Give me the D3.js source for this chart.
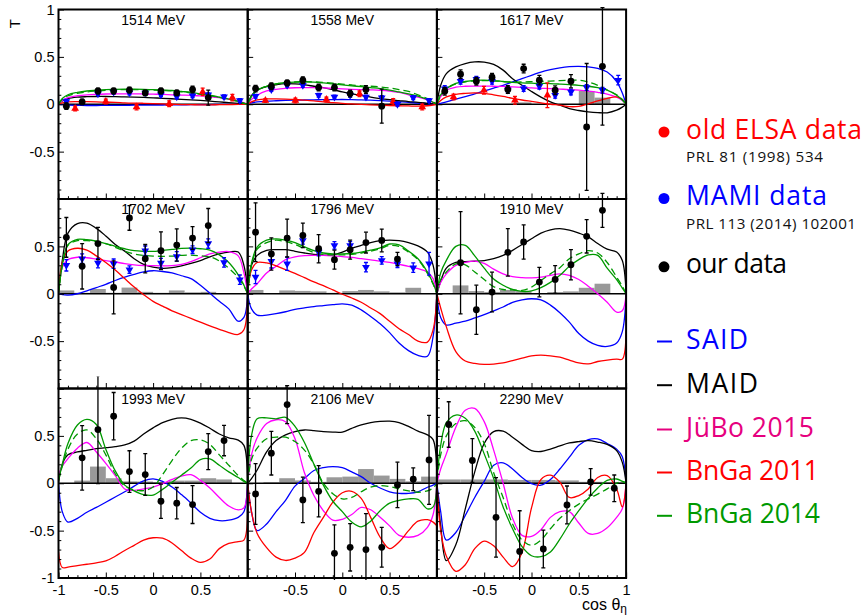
<!DOCTYPE html>
<html>
<head>
<meta charset="utf-8">
<script src="https://cdn.jsdelivr.net/npm/d3@7"></script>
<style>
  body { margin: 0; background: #fff; }
  svg { display: block; }
</style>
</head>
<body>
<svg id="chart" width="865" height="615"></svg>
<script>
// Beam energies of the nine panels
const energies = ["1514 MeV", "1558 MeV", "1617 MeV", "1702 MeV", "1796 MeV",
                  "1910 MeV", "1993 MeV", "2106 MeV", "2290 MeV"];

// cos(theta_eta) grid on which the model curves are tabulated
const cosGrid = [-1, -0.96, -0.9, -0.8, -0.7, -0.6, -0.5, -0.4, -0.3, -0.2, -0.1, 0,
                 0.1, 0.2, 0.3, 0.4, 0.5, 0.6, 0.7, 0.8, 0.9, 0.96, 1];

// Model predictions of T, one row per energy
const SAID = [
  [0,-0.005,-0.01,-0.012,-0.013,-0.013,-0.012,-0.012,-0.011,-0.01,-0.01,-0.009,-0.008,-0.007,-0.006,-0.005,-0.004,-0.003,-0.002,-0.001,0,0,0],
  [0,0.015,0.025,0.033,0.037,0.04,0.043,0.045,0.047,0.048,0.049,0.05,0.048,0.046,0.043,0.038,0.032,0.026,0.02,0.012,0.006,0.002,0],
  [0,0.01,0.025,0.055,0.08,0.11,0.14,0.17,0.2,0.235,0.27,0.305,0.34,0.365,0.385,0.397,0.4,0.395,0.378,0.34,0.24,0.12,0],
  [0,-0.01,-0.014,0.0,0.03,0.065,0.1,0.14,0.175,0.205,0.23,0.243,0.235,0.22,0.19,0.16,0.09,0.005,-0.08,-0.16,-0.29,-0.25,0],
  [0,-0.16,-0.225,-0.225,-0.21,-0.19,-0.165,-0.15,-0.135,-0.125,-0.115,-0.106,-0.12,-0.17,-0.24,-0.317,-0.41,-0.52,-0.6,-0.65,-0.66,-0.45,0],
  [0,-0.25,-0.33,-0.31,-0.29,-0.255,-0.22,-0.18,-0.14,-0.09,-0.065,-0.053,-0.065,-0.12,-0.2,-0.3,-0.42,-0.5,-0.545,-0.556,-0.52,-0.4,0],
  [0,-0.3,-0.41,-0.37,-0.306,-0.255,-0.2,-0.145,-0.09,-0.03,0.025,0.046,0.02,-0.04,-0.12,-0.21,-0.306,-0.37,-0.395,-0.39,-0.36,-0.3,0],
  [0,-0.3,-0.5,-0.43,-0.3,-0.18,-0.03,0.05,0.134,0.165,0.176,0.165,0.12,0.07,0.0,-0.05,-0.09,-0.106,-0.106,-0.09,-0.042,-0.02,0],
  [0,-0.3,-0.6,-0.52,-0.34,-0.15,0.02,0.19,0.215,0.15,0.06,-0.005,-0.02,0.04,0.15,0.275,0.4,0.46,0.468,0.42,0.36,0.28,0]
];
const MAID = [
  [0,0.035,0.06,0.075,0.08,0.082,0.082,0.08,0.078,0.075,0.072,0.068,0.063,0.058,0.052,0.046,0.04,0.033,0.025,0.017,0.009,0.004,0],
  [0,0.09,0.148,0.185,0.205,0.218,0.215,0.205,0.19,0.175,0.155,0.13,0.11,0.095,0.075,0.06,0.048,0.038,0.028,0.02,0.01,0.004,0],
  [0,0.2,0.324,0.394,0.43,0.447,0.445,0.42,0.36,0.27,0.2,0.135,0.075,0.025,-0.01,-0.046,-0.066,-0.08,-0.088,-0.09,-0.063,-0.03,0],
  [0,0.35,0.64,0.74,0.746,0.69,0.61,0.52,0.45,0.37,0.31,0.28,0.268,0.275,0.295,0.32,0.35,0.39,0.42,0.44,0.44,0.3,0],
  [0,0.3,0.405,0.458,0.465,0.465,0.448,0.43,0.415,0.407,0.41,0.44,0.48,0.51,0.54,0.56,0.565,0.56,0.54,0.505,0.44,0.3,0],
  [0,0.13,0.27,0.33,0.34,0.343,0.35,0.37,0.405,0.458,0.52,0.58,0.64,0.675,0.687,0.672,0.64,0.6,0.53,0.47,0.44,0.35,0],
  [0,0.2,0.3,0.33,0.348,0.365,0.375,0.387,0.405,0.445,0.52,0.585,0.64,0.675,0.69,0.675,0.635,0.58,0.52,0.48,0.455,0.4,0],
  [0,0.05,0.14,0.33,0.45,0.51,0.545,0.562,0.556,0.545,0.54,0.54,0.58,0.615,0.64,0.652,0.655,0.64,0.6,0.55,0.51,0.46,0],
  [0,-0.45,-0.817,-0.65,-0.27,0.12,0.42,0.545,0.55,0.486,0.41,0.345,0.335,0.36,0.395,0.425,0.44,0.45,0.435,0.41,0.345,0.22,0]
];
const JUBO2015 = [
  [0,0.04,0.07,0.09,0.1,0.105,0.108,0.11,0.11,0.11,0.108,0.106,0.104,0.1,0.097,0.093,0.088,0.08,0.07,0.055,0.035,0.015,0],
  [0,0.05,0.095,0.14,0.158,0.168,0.174,0.176,0.175,0.172,0.167,0.162,0.158,0.155,0.152,0.148,0.14,0.125,0.1,0.075,0.045,0.02,0],
  [0,0.08,0.148,0.18,0.19,0.192,0.192,0.19,0.188,0.183,0.178,0.172,0.168,0.165,0.16,0.155,0.148,0.138,0.125,0.108,0.075,0.04,0],
  [0,0.28,0.36,0.385,0.38,0.365,0.35,0.335,0.318,0.305,0.298,0.296,0.295,0.296,0.31,0.34,0.38,0.42,0.44,0.445,0.4,0.22,0],
  [0,0.05,0.106,0.22,0.29,0.36,0.39,0.402,0.405,0.405,0.4,0.392,0.383,0.37,0.357,0.345,0.33,0.31,0.29,0.265,0.23,0.16,0],
  [0,0.12,0.21,0.3,0.33,0.345,0.32,0.26,0.21,0.18,0.17,0.168,0.175,0.195,0.21,0.194,0.15,0.08,0.0,-0.09,-0.194,-0.18,0],
  [0.08,0.18,0.26,0.37,0.43,0.33,0.21,0.08,-0.06,-0.075,-0.06,-0.04,-0.005,0.04,0.075,0.09,0.03,-0.05,-0.15,-0.24,-0.28,-0.26,0],
  [0,0.3,0.48,0.63,0.67,0.65,0.47,0.11,-0.13,-0.29,-0.39,-0.38,-0.33,-0.255,-0.28,-0.36,-0.45,-0.55,-0.57,-0.55,-0.465,-0.33,0],
  [0,0.15,0.31,0.59,0.77,0.79,0.65,0.35,0.0,-0.37,-0.55,-0.56,-0.49,-0.36,-0.3,-0.3,-0.42,-0.53,-0.53,-0.47,-0.36,-0.27,0]
];
const BNGA2011 = [
  [0,0.015,0.025,0.027,0.027,0.025,0.022,0.02,0.015,0.012,0.01,0.007,0.004,0,-0.003,-0.005,-0.006,-0.006,-0.005,-0.003,-0.002,-0.001,0],
  [0,0.025,0.045,0.056,0.056,0.054,0.05,0.043,0.035,0.025,0.018,0.01,0.003,-0.002,-0.006,-0.01,-0.013,-0.016,-0.018,-0.02,-0.016,-0.008,0],
  [0,0.04,0.077,0.105,0.115,0.12,0.115,0.1,0.082,0.062,0.045,0.03,0.015,0,-0.01,-0.025,-0.022,0.005,0.035,0.062,0.077,0.05,0],
  [0,0.33,0.45,0.48,0.46,0.4,0.33,0.25,0.16,0.07,-0.01,-0.08,-0.13,-0.18,-0.22,-0.26,-0.3,-0.34,-0.375,-0.41,-0.43,-0.38,0],
  [0,0.25,0.33,0.325,0.295,0.255,0.215,0.17,0.125,0.085,0.04,-0.005,-0.045,-0.09,-0.15,-0.21,-0.29,-0.37,-0.43,-0.5,-0.51,-0.38,0],
  [0,-0.15,-0.35,-0.61,-0.71,-0.735,-0.746,-0.742,-0.73,-0.705,-0.68,-0.655,-0.648,-0.655,-0.67,-0.7,-0.73,-0.74,-0.715,-0.7,-0.69,-0.69,-0.39],
  [-0.72,-0.89,-0.885,-0.87,-0.855,-0.84,-0.82,-0.77,-0.71,-0.655,-0.6,-0.575,-0.58,-0.63,-0.71,-0.79,-0.835,-0.8,-0.69,-0.635,-0.615,-0.6,-0.3],
  [0,-0.3,-0.53,-0.68,-0.78,-0.815,-0.79,-0.73,-0.52,-0.36,-0.2,-0.1,-0.085,-0.16,-0.36,-0.57,-0.69,-0.62,-0.5,-0.4,-0.385,-0.41,-0.45],
  [0,-0.5,-0.77,-0.93,-0.86,-0.69,-0.61,-0.66,-0.78,-0.88,-0.73,-0.26,0.04,0.085,0.01,-0.15,-0.13,-0.06,0.06,0.08,-0.06,-0.25,0]
];
const BNGA2014 = [
  [0,0.06,0.1,0.125,0.14,0.148,0.155,0.158,0.16,0.16,0.158,0.155,0.15,0.145,0.135,0.125,0.11,0.095,0.075,0.055,0.03,0.012,0],
  [0,0.08,0.148,0.19,0.215,0.227,0.233,0.236,0.233,0.225,0.215,0.205,0.195,0.185,0.175,0.165,0.15,0.13,0.11,0.085,0.05,0.02,0],
  [0,0.1,0.165,0.22,0.24,0.252,0.254,0.25,0.24,0.23,0.225,0.222,0.22,0.218,0.213,0.207,0.2,0.19,0.175,0.15,0.095,0.045,0],
  [0,0.3,0.518,0.575,0.57,0.555,0.53,0.5,0.475,0.455,0.448,0.447,0.458,0.468,0.478,0.482,0.475,0.46,0.41,0.33,0.2,0.09,0],
  [0,0.32,0.493,0.565,0.58,0.565,0.54,0.495,0.455,0.43,0.42,0.42,0.425,0.44,0.46,0.485,0.525,0.515,0.45,0.37,0.229,0.11,0],
  [0,0.22,0.352,0.5,0.51,0.4,0.27,0.155,0.09,0.045,0.025,0.03,0.065,0.12,0.194,0.29,0.36,0.41,0.405,0.27,0.15,0.06,0],
  [0.03,0.2,0.42,0.615,0.675,0.62,0.36,0.13,-0.02,-0.08,-0.12,-0.125,-0.065,0.01,0.085,0.16,0.25,0.257,0.19,0.12,0.06,0.02,0],
  [0,0.5,0.68,0.69,0.68,0.695,0.6,0.43,0.2,-0.02,-0.19,-0.3,-0.41,-0.46,-0.4,-0.29,-0.21,-0.18,-0.165,-0.17,-0.27,-0.25,0],
  [0.03,0.4,0.64,0.72,0.685,0.55,0.31,0.05,-0.25,-0.48,-0.67,-0.765,-0.775,-0.725,-0.59,-0.43,-0.29,-0.16,-0.05,0.03,0.045,0.02,0]
];
// BnGa 2014 variant fit (dashed)
const BNGA2014_FIT = [
  [0,0.05,0.09,0.115,0.13,0.14,0.148,0.152,0.155,0.155,0.153,0.15,0.145,0.14,0.13,0.12,0.105,0.09,0.072,0.052,0.028,0.01,0],
  [0,0.08,0.148,0.19,0.215,0.228,0.235,0.238,0.236,0.23,0.222,0.212,0.203,0.195,0.19,0.183,0.172,0.155,0.135,0.1,0.06,0.025,0],
  [0,0.09,0.16,0.215,0.237,0.248,0.25,0.247,0.24,0.235,0.235,0.238,0.242,0.245,0.25,0.253,0.254,0.235,0.2,0.15,0.1,0.05,0],
  [0,0.3,0.51,0.56,0.56,0.553,0.53,0.49,0.45,0.42,0.405,0.398,0.395,0.398,0.405,0.408,0.4,0.39,0.345,0.27,0.17,0.08,0],
  [0,0.3,0.47,0.54,0.565,0.55,0.52,0.475,0.435,0.415,0.41,0.41,0.415,0.43,0.45,0.475,0.51,0.5,0.44,0.36,0.215,0.1,0],
  [0,0.15,0.229,0.315,0.305,0.23,0.15,0.075,0.045,0.04,0.035,0.07,0.14,0.21,0.275,0.37,0.42,0.455,0.43,0.33,0.176,0.08,0],
  [0.03,0.18,0.36,0.52,0.563,0.47,0.3,0.1,-0.03,-0.07,-0.077,-0.04,0.09,0.24,0.37,0.45,0.458,0.41,0.3,0.19,0.08,0.03,0],
  [0,0.25,0.37,0.47,0.486,0.486,0.44,0.35,0.2,0.0,-0.11,-0.165,-0.15,-0.09,-0.04,-0.025,-0.035,-0.06,-0.08,-0.095,-0.08,-0.05,0],
  [0.03,0.3,0.5,0.63,0.66,0.59,0.42,0.11,-0.15,-0.43,-0.6,-0.655,-0.6,-0.48,-0.37,-0.289,-0.22,-0.165,-0.115,-0.06,0.0,0.02,0]
];

// Measured T: [cos, T, statistical error]
const ourData = [
  [[-0.917,-0.02,0.035],[-0.75,0.025,0.03],[-0.583,0.14,0.03],[-0.417,0.14,0.03],[-0.25,0.15,0.03],[-0.083,0.12,0.03],[0.083,0.14,0.03],[0.25,0.12,0.03],[0.417,0.155,0.035],[0.583,0.07,0.08]],
  [[-0.917,0.165,0.035],[-0.75,0.19,0.035],[-0.583,0.225,0.03],[-0.417,0.254,0.035],[-0.25,0.176,0.035],[-0.083,0.176,0.035],[0.083,0.113,0.035],[0.25,0.155,0.04],[0.417,-0.02,0.18]],
  [[-0.917,0.137,0.04],[-0.75,0.317,0.045],[-0.583,0.243,0.04],[-0.417,0.285,0.04],[-0.25,0.155,0.04],[-0.083,0.377,0.045],[0.083,0.254,0.05],[0.25,0.148,0.045],[0.417,0.243,0.07],[0.583,-0.24,0.67],[0.75,0.4,0.62]],
  [[-0.917,0.595,0.21],[-0.75,0.29,0.24],[-0.583,0.53,0.17],[-0.417,0.067,0.28],[-0.25,0.8,0.13],[-0.083,0.37,0.15],[0.083,0.454,0.2],[0.25,0.514,0.17],[0.417,0.588,0.12],[0.583,0.72,0.18]],
  [[-0.917,0.65,0.31],[-0.75,0.42,0.17],[-0.583,0.588,0.2],[-0.417,0.616,0.13],[-0.25,0.475,0.15],[-0.083,0.36,0.1],[0.083,0.465,0.1],[0.25,0.54,0.11],[0.417,0.563,0.12],[0.583,0.366,0.07]],
  [[-0.75,0.327,0.54],[-0.583,-0.169,0.26],[-0.417,0.018,0.21],[-0.25,0.437,0.25],[-0.083,0.546,0.18],[0.083,0.123,0.155],[0.25,0.151,0.146],[0.417,0.306,0.16],[0.583,0.606,0.176],[0.75,0.88,0.18]],
  [[-0.75,0.268,0.34],[-0.583,0.567,0.57],[-0.417,0.708,0.25],[-0.25,0.123,0.22],[-0.083,0.092,0.22],[0.083,-0.19,0.18],[0.25,-0.21,0.165],[0.417,-0.225,0.2],[0.583,0.334,0.19],[0.75,0.45,0.16]],
  [[-0.917,-0.113,0.32],[-0.75,0.317,0.23],[-0.583,0.83,0.2],[-0.417,-0.176,0.24],[-0.25,-0.085,0.27],[-0.083,-0.74,0.3],[0.083,-0.676,0.25],[0.25,-0.7,0.38],[0.417,-0.676,0.21],[0.583,-0.018,0.24],[0.75,0.042,0.12],[0.917,0.246,0.47]],
  [[-0.875,0.62,0.24],[-0.625,0.24,0.23],[-0.375,-0.36,0.42],[-0.125,-0.72,0.43],[0.125,-0.694,0.2],[0.375,-0.229,0.2],[0.625,0.014,0.14],[0.875,-0.053,0.14]]
];
// MAMI data (PRL 113 (2014) 102001)
const mamiData = [
  [[-0.917,0.03,0.02],[-0.583,0.11,0.02],[-0.417,0.13,0.02],[-0.25,0.12,0.02],[-0.083,0.12,0.02],[0.083,0.1,0.02],[0.25,0.08,0.02],[0.417,0.09,0.02],[0.583,0.1,0.02],[0.75,0.08,0.02],[0.917,0.04,0.02]],
  [[-0.917,0.085,0.02],[-0.75,0.155,0.02],[-0.583,0.2,0.02],[-0.417,0.2,0.02],[-0.25,0.095,0.02],[-0.083,0.077,0.02],[0.083,0.095,0.02],[0.25,0.077,0.02],[0.417,0.07,0.02],[0.583,0.0,0.02],[0.75,0.07,0.02],[0.917,0.04,0.02]],
  [[-0.917,0.165,0.03],[-0.75,0.243,0.03],[-0.583,0.264,0.03],[-0.417,0.243,0.03],[-0.25,0.15,0.03],[-0.083,0.165,0.03],[0.083,0.19,0.03],[0.25,0.095,0.03],[0.417,0.13,0.03],[0.583,0.176,0.03],[0.75,0.148,0.03],[0.917,0.254,0.05]],
  [[-0.917,0.3,0.06],[-0.75,0.37,0.05],[-0.583,0.324,0.05],[-0.417,0.317,0.05],[-0.25,0.254,0.04],[-0.083,0.454,0.05],[0.083,0.324,0.05],[0.25,0.394,0.05],[0.417,0.465,0.04],[0.583,0.53,0.05],[0.75,0.33,0.05],[0.917,0.148,0.05]],
  [[-0.917,0.176,0.07],[-0.75,0.342,0.07],[-0.583,0.317,0.07],[-0.417,0.563,0.04],[-0.25,0.44,0.04],[-0.083,0.51,0.04],[0.083,0.51,0.04],[0.25,0.28,0.05],[0.417,0.352,0.04],[0.583,0.317,0.04],[0.75,0.275,0.05],[0.917,0.317,0.12]],
  [], [], [], []
];
// old ELSA data (PRL 81 (1998) 534)
const elsaData = [
  [[-0.824,-0.045,0.025],[-0.5,0.03,0.025],[-0.175,-0.03,0.03],[0.17,0.005,0.03],[0.524,0.13,0.04],[0.838,0.07,0.035]],
  [[-0.813,0.04,0.02],[-0.496,0.04,0.025],[-0.168,0.05,0.025],[0.182,0.11,0.03],[0.538,0.025,0.035],[0.845,-0.03,0.03]],
  [[-0.824,0.077,0.03],[-0.503,0.148,0.04],[-0.175,0.042,0.04],[0.168,0.095,0.13]],
  [], [], [], [], [], []
];

// Systematic uncertainty histograms: bin width and bin contents (bins start at cos = -1)
const sysBinWidth = [1/6, 1/6, 1/6, 1/6, 1/6, 1/6, 1/6, 1/6, 0.25];
const sysErr = [
  [0,0,0,0,0,0,0,0,0,0,0,0],
  [0,0,0,0,0,0,0,0,0,0,0,0],
  [0,0,0,0,0,0.02,0,0,0,0.14,0.07,0],
  [0.035,0.01,0.05,0.01,0.065,0.02,0.01,0.035,0.015,0.02,0,0],
  [0.04,0.005,0.035,0.03,0.025,0.01,0.028,0.04,0.025,0.015,0.063,0],
  [0,0.088,0.028,0.018,0.04,0.028,0.008,0.018,0.025,0.063,0.106,0],
  [0,0.028,0.176,0.053,0.02,0.018,0.01,0.028,0.028,0.053,0.04,0],
  [0,0.01,0.053,0.03,0.015,0.063,0.07,0.15,0.081,0.046,0.02,0.07],
  [0.04,0.04,0.04,0.035,0.035,0.03,0.015,0.01]
];

// Axis tick values and which labels appear on the outer panels
const majorTicks = [-1, -0.5, 0, 0.5, 1];
const minorTicks = d3.range(-10, 11).filter(i => i % 5 !== 0).map(i => i / 10);
const yLabelsByRow = [[1, 0.5, 0, -0.5], [0.5, 0, -0.5], [0.5, 0, -0.5, -1]];
const xLabelsByCol = [[-1, -0.5, 0, 0.5], [-0.5, 0, 0.5], [-0.5, 0, 0.5, 1]];

// Legend entries
const dataLegend = [
  { label: "old ELSA data", ref: "PRL 81 (1998) 534", color: "#ff0000" },
  { label: "MAMI data", ref: "PRL 113 (2014) 102001", color: "#0000ff" },
  { label: "our data", ref: null, color: "#000000" }
];
const modelLegend = [
  { label: "SAID", color: "#0000ff" },
  { label: "MAID", color: "#000000" },
  { label: "JüBo 2015", color: "#e6007e" },
  { label: "BnGa 2011", color: "#ff0000" },
  { label: "BnGa 2014", color: "#009900" }
];

// ---------------------------------------------------------------------------
const svg = d3.select("#chart");
const FONT = "'Liberation Sans', Arial, Helvetica, sans-serif";
const LEFT = 58.5, TOP = 9.5, PW = 189.2, PH = 189.5;

const curves = [
  { rows: SAID, color: "#0000ff" },
  { rows: MAID, color: "#000000" },
  { rows: JUBO2015, color: "#ff00ff" },
  { rows: BNGA2011, color: "#ff0000" },
  { rows: BNGA2014_FIT, color: "#009900", dash: "7,4" },
  { rows: BNGA2014, color: "#009900" }
];

const fmt = d => (d === 0 ? "0" : String(d));
const defs = svg.append("defs");

energies.forEach((title, p) => {
  const col = p % 3, row = Math.floor(p / 3);
  const x0 = LEFT + col * PW, y0 = TOP + row * PH;
  const x = d3.scaleLinear().domain([-1, 1]).range([x0, x0 + PW]);
  const y = d3.scaleLinear().domain([-1, 1]).range([y0 + PH, y0]);

  defs.append("clipPath").attr("id", "c" + p).append("rect")
    .attr("x", x0).attr("y", y0).attr("width", PW).attr("height", PH);
  defs.append("clipPath").attr("id", "d" + p).append("rect")
    .attr("x", x0).attr("y", y0 - 12).attr("width", PW).attr("height", PH + 14);

  const g = svg.append("g");

  // energy label
  g.append("text")
    .attr("x", x0 + PW / 2).attr("y", y0 + 15)
    .attr("text-anchor", "middle")
    .attr("font-family", FONT).attr("font-size", 14)
    .text(title);

  const plot = g.append("g").attr("clip-path", `url(#c${p})`);

  // systematic uncertainty histogram
  const w = sysBinWidth[p];
  plot.selectAll("rect.sys").data(sysErr[p]).join("rect")
    .attr("class", "sys")
    .attr("x", (v, k) => x(-1 + k * w))
    .attr("width", (v, k) => x(-1 + (k + 1) * w) - x(-1 + k * w))
    .attr("y", v => y(v))
    .attr("height", v => y(0) - y(v))
    .attr("fill", "#999");

  // zero line
  plot.append("line")
    .attr("x1", x(-1)).attr("x2", x(1))
    .attr("y1", y(0)).attr("y2", y(0))
    .attr("stroke", "#000").attr("stroke-width", 1.6);

  // model curves
  const line = d3.line()
    .x((d, i) => x(cosGrid[i]))
    .y(d => y(d))
    .curve(d3.curveCatmullRom.alpha(0.5));
  curves.forEach(c => {
    plot.append("path")
      .attr("d", line(c.rows[p]))
      .attr("fill", "none")
      .attr("stroke", c.color)
      .attr("stroke-width", 1.3)
      .attr("stroke-dasharray", c.dash || null);
  });

  // data points with error bars
  const dg = g.append("g").attr("clip-path", `url(#d${p})`);
  const drawSet = (set, color, marker) => {
    set.forEach(([c, t, e]) => {
      const px = x(c);
      dg.append("line")
        .attr("x1", px).attr("x2", px)
        .attr("y1", y(t + e)).attr("y2", y(t - e))
        .attr("stroke", color).attr("stroke-width", 1.3);
      [t + e, t - e].forEach(v => {
        dg.append("line")
          .attr("x1", px - 2).attr("x2", px + 2)
          .attr("y1", y(v)).attr("y2", y(v))
          .attr("stroke", color).attr("stroke-width", 1.3);
      });
      if (marker === "circle") {
        dg.append("circle").attr("cx", px).attr("cy", y(t)).attr("r", 3.4).attr("fill", color);
      } else {
        const rot = marker === "down" ? 180 : 0;
        dg.append("path")
          .attr("d", d3.symbol(d3.symbolTriangle, 26)())
          .attr("transform", `translate(${px},${y(t)}) rotate(${rot})`)
          .attr("fill", color);
      }
    });
  };
  drawSet(elsaData[p], "#ff0000", "up");
  drawSet(mamiData[p], "#0000ff", "down");
  drawSet(ourData[p], "#000000", "circle");

  // axes (ticks point into the panel)
  const styleAxis = a => {
    a.select(".domain").remove();
    a.attr("font-family", FONT).attr("font-size", 14.5);
    a.selectAll("line").attr("stroke", "#000").attr("stroke-width", 1);
    a.selectAll("text").attr("fill", "#000");
  };
  g.append("g").attr("transform", `translate(${x0},0)`)
    .call(d3.axisLeft(y).tickValues(majorTicks).tickSize(-5.5).tickPadding(4)
      .tickFormat(d => (col === 0 && yLabelsByRow[row].includes(d)) ? fmt(d) : ""))
    .call(styleAxis);
  g.append("g").attr("transform", `translate(${x0},0)`)
    .call(d3.axisLeft(y).tickValues(minorTicks).tickSize(-2.8).tickFormat(""))
    .call(styleAxis);
  g.append("g").attr("transform", `translate(0,${y0 + PH})`)
    .call(d3.axisBottom(x).tickValues(majorTicks).tickSize(-5.5).tickPadding(7)
      .tickFormat(d => (row === 2 && xLabelsByCol[col].includes(d)) ? fmt(d) : ""))
    .call(styleAxis);
  g.append("g").attr("transform", `translate(0,${y0 + PH})`)
    .call(d3.axisBottom(x).tickValues(minorTicks).tickSize(-2.8).tickFormat(""))
    .call(styleAxis);

  // frame
  g.append("rect")
    .attr("x", x0).attr("y", y0).attr("width", PW).attr("height", PH)
    .attr("fill", "none").attr("stroke", "#000").attr("stroke-width", 2);
});

// axis titles
svg.append("text")
  .attr("transform", "translate(20,19) rotate(-90)")
  .attr("text-anchor", "end")
  .attr("font-family", FONT).attr("font-size", 15)
  .text("T");
const xt = svg.append("text")
  .attr("x", 627).attr("y", 610)
  .attr("text-anchor", "end")
  .attr("font-family", FONT).attr("font-size", 16);
xt.append("tspan").text("cos θ");
xt.append("tspan").attr("font-size", 12).attr("dy", 3).text("η");

// legend
const LFONT = "'Open Sans', 'DejaVu Sans', sans-serif";
const dataY = [138.5, 205, 273.3];
const bigWidths = [176, 141, 101];
const refWidths = [137, 170];
dataLegend.forEach((d, i) => {
  svg.append("circle").attr("cx", 664).attr("cy", dataY[i] - 6.5).attr("r", 5.5).attr("fill", d.color);
  svg.append("text")
    .attr("x", 686).attr("y", dataY[i])
    .attr("font-family", LFONT).attr("font-size", 26.5)
    .attr("fill", d.color)
    .attr("textLength", bigWidths[i])
    .text(d.label);
  if (d.ref) {
    svg.append("text")
      .attr("x", 686).attr("y", dataY[i] + 23.5)
      .attr("font-family", LFONT).attr("font-size", 15.2)
      .attr("fill", "#111")
      .attr("textLength", refWidths[i])
      .text(d.ref);
  }
});
const modelY = [349, 392.7, 437, 480, 523.3];
const modelWidths = [62, 72, 128, 133, 134];
modelLegend.forEach((d, i) => {
  svg.append("line")
    .attr("x1", 657).attr("x2", 672)
    .attr("y1", modelY[i] - 7.5).attr("y2", modelY[i] - 7.5)
    .attr("stroke", d.color).attr("stroke-width", 2);
  svg.append("text")
    .attr("x", 686).attr("y", modelY[i])
    .attr("font-family", LFONT).attr("font-size", 26.5)
    .attr("fill", d.color)
    .attr("textLength", modelWidths[i])
    .text(d.label);
});
</script>
</body>
</html>
